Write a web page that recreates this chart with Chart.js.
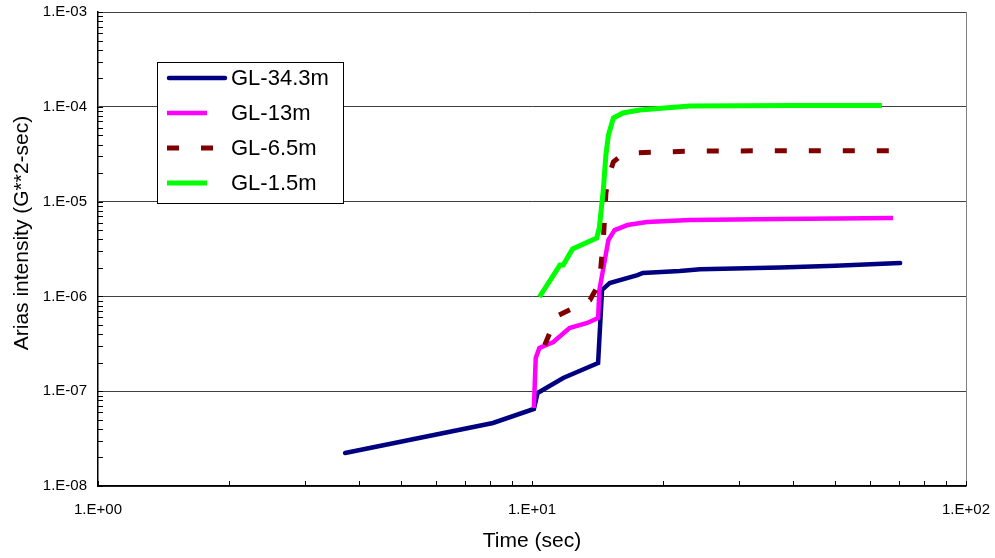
<!DOCTYPE html>
<html>
<head>
<meta charset="utf-8">
<script src="https://cdn.jsdelivr.net/npm/chart.js@4.4.1/dist/chart.umd.min.js"></script>
<style>
  html, body { margin: 0; padding: 0; background: #fff; }
  #wrap { width: 995px; height: 558px; }
</style>
</head>
<body>
<div id="wrap"><canvas id="chart" width="995" height="558"></canvas></div>
<script>
// series (time in sec, Arias intensity in G**2-sec)
const seriesNames = ['GL-34.3m', 'GL-13m', 'GL-6.5m', 'GL-1.5m'];

const time343 = [3.71, 8.13, 10.1, 10.3, 11.8, 14.2, 14.5, 15.1, 17.5, 18.0, 21.9, 24.4, 37.3, 50.0, 70.5];
const arias343 = [2.23e-8, 4.62e-8, 6.49e-8, 9.57e-8, 1.38e-7, 1.98e-7, 1.17e-6, 1.38e-6, 1.68e-6, 1.77e-6, 1.85e-6, 1.93e-6, 2.02e-6, 2.1e-6, 2.25e-6];

const time13 = [10.1, 10.2, 10.4, 11.2, 12.2, 13.4, 14.2, 14.3, 15.0, 15.5, 16.6, 18.4, 23.1, 37.3, 67.9];
const arias13 = [6.65e-8, 2.24e-7, 2.86e-7, 3.30e-7, 4.64e-7, 5.24e-7, 5.92e-7, 1.17e-6, 3.94e-6, 5.0e-6, 5.66e-6, 6.09e-6, 6.4e-6, 6.55e-6, 6.71e-6];

const time65 = [10.7, 11.4, 13.6, 14.3, 14.6, 14.8, 15.0, 15.4, 16.0, 17.1, 19.7, 24.4, 41.5, 71.2];
const arias65 = [3.07e-7, 6.2e-7, 9.16e-7, 1.38e-6, 3.94e-6, 1.23e-5, 1.82e-5, 2.62e-5, 3.03e-5, 3.26e-5, 3.34e-5, 3.42e-5, 3.44e-5, 3.45e-5];

const time15 = [10.4, 11.6, 11.8, 12.4, 14.1, 14.3, 14.6, 14.8, 15.0, 15.4, 16.2, 17.7, 23.1, 40.0, 64.0];
const arias15 = [9.86e-7, 2.14e-6, 2.14e-6, 3.16e-6, 4.13e-6, 5.4e-6, 1.33e-5, 3.1e-5, 5.04e-5, 7.62e-5, 8.6e-5, 9.25e-5, 1.02e-4, 1.03e-4, 1.03e-4];

const xRange = [1, 100];
const yRange = [1e-8, 1e-3];

const FONT = "'Liberation Sans', Arial, sans-serif";

const pairs = (xs, ys) => xs.map((x, i) => ({ x: x, y: ys[i] }));

const isMajor = v => Math.abs(Math.log10(v) - Math.round(Math.log10(v))) < 1e-9;

// Excel style label: 1.E-03
const expLabel = v => {
  const e = Math.round(Math.log10(v));
  const s = String(Math.abs(e)).padStart(2, '0');
  return '1.E' + (e < 0 ? '-' : '+') + s;
};

// drop the 1.5 ticks chart.js adds, keep 1..9 per decade
const keepDecadeTicks = scale => {
  scale.ticks = scale.ticks.filter(t => {
    const m = t.value / Math.pow(10, Math.floor(Math.log10(t.value) + 1e-9));
    return Math.abs(m - Math.round(m)) < 1e-6;
  });
};

// fixed axis boxes so the plot area lands where the reference has it
const fitX = s => {
  s.height = 72;
  s.paddingLeft = 0;
  s.paddingRight = 0;
};
const fitY = s => {
  s.width = 98;
  s.paddingTop = 0;
  s.paddingBottom = 0;
};

const extras = {
  id: 'extras',
  afterDraw(chart) {
    const ctx = chart.ctx;
    const xs = chart.scales.x;
    const ys = chart.scales.y;
    const area = chart.chartArea;

    // tick marks point into the plot
    ctx.save();
    ctx.strokeStyle = '#000';
    ctx.lineWidth = 1;
    ctx.beginPath();
    ys.ticks.forEach(t => {
      const y = Math.round(ys.getPixelForValue(t.value)) + 0.5;
      ctx.moveTo(area.left, y);
      ctx.lineTo(area.left + 5, y);
    });
    xs.ticks.forEach(t => {
      const x = Math.round(xs.getPixelForValue(t.value)) + 0.5;
      ctx.moveTo(x, area.bottom);
      ctx.lineTo(x, area.bottom - 5);
    });
    ctx.stroke();
    ctx.restore();

    // y axis title
    ctx.save();
    ctx.translate(22, 233);
    ctx.rotate(-Math.PI / 2);
    ctx.font = '21px ' + FONT;
    ctx.fillStyle = '#000';
    ctx.textAlign = 'center';
    ctx.textBaseline = 'middle';
    ctx.fillText('Arias intensity (G**2-sec)', 0, 0);
    ctx.restore();

    // legend box
    const bx = 157, by = 62, bw = 186, bh = 141;
    const sampleLen = [60, 40, 46, 40];
    ctx.save();
    ctx.fillStyle = '#fff';
    ctx.fillRect(bx, by, bw, bh);
    ctx.strokeStyle = '#000';
    ctx.lineWidth = 1;
    ctx.strokeRect(bx + 0.5, by + 0.5, bw, bh);
    chart.data.datasets.forEach((ds, i) => {
      const rowY = 78 + i * 35;
      ctx.save();
      ctx.strokeStyle = ds.borderColor;
      ctx.lineWidth = ds.borderWidth;
      ctx.lineCap = ds.borderCapStyle || 'butt';
      ctx.setLineDash(ds.borderDash || []);
      const x0 = 167 + (ds.borderCapStyle === 'round' ? 2 : 0);
      const x1 = 167 + sampleLen[i] - (ds.borderCapStyle === 'round' ? 2 : 0);
      ctx.beginPath();
      ctx.moveTo(x0, rowY);
      ctx.lineTo(x1, rowY);
      ctx.stroke();
      ctx.restore();
      ctx.font = '22px ' + FONT;
      ctx.fillStyle = '#000';
      ctx.textBaseline = 'middle';
      ctx.fillText(ds.label, 231, rowY + 1);
    });
    ctx.restore();
  }
};

new Chart(document.getElementById('chart'), {
  type: 'line',
  data: {
    datasets: [
      {
        label: seriesNames[0],
        data: pairs(time343, arias343),
        borderColor: '#000080',
        borderWidth: 4.5,
        borderCapStyle: 'round',
        order: 4
      },
      {
        label: seriesNames[1],
        data: pairs(time13, arias13),
        borderColor: '#ff00ff',
        borderWidth: 4.5,
        order: 3
      },
      {
        label: seriesNames[2],
        data: pairs(time65, arias65),
        borderColor: '#800000',
        borderWidth: 5,
        borderDash: [12, 22],
        order: 2
      },
      {
        label: seriesNames[3],
        data: pairs(time15, arias15),
        borderColor: '#00ff00',
        borderWidth: 5,
        order: 1
      }
    ]
  },
  options: {
    responsive: false,
    animation: false,
    devicePixelRatio: 1,
    elements: {
      point: { radius: 0, hoverRadius: 0 },
      line: { tension: 0, fill: false, borderJoinStyle: 'miter' }
    },
    layout: { padding: { top: 12, right: 29, left: 0, bottom: 0 } },
    plugins: {
      legend: { display: false },
      tooltip: { enabled: false }
    },
    scales: {
      x: {
        type: 'logarithmic',
        min: xRange[0],
        max: xRange[1],
        afterFit: fitX,
        afterBuildTicks: keepDecadeTicks,
        grid: {
          drawTicks: false,
          lineWidth: 1,
          color: c => (c.tick && c.tick.value === xRange[1]) ? '#808080' : 'rgba(0,0,0,0)'
        },
        border: { color: '#000', width: 1.5 },
        ticks: {
          autoSkip: false,
          maxRotation: 0,
          padding: 15,
          color: '#000',
          font: { family: FONT, size: 15 },
          callback: v => isMajor(v) ? expLabel(v) : ''
        },
        title: {
          display: true,
          text: 'Time (sec)',
          color: '#000',
          font: { family: FONT, size: 21 },
          padding: { top: 0, bottom: 4 }
        }
      },
      y: {
        type: 'logarithmic',
        min: yRange[0],
        max: yRange[1],
        afterFit: fitY,
        afterBuildTicks: keepDecadeTicks,
        grid: {
          drawTicks: false,
          lineWidth: 1,
          color: c => (c.tick && isMajor(c.tick.value)) ? '#404040' : 'rgba(0,0,0,0)'
        },
        border: { color: '#000', width: 1.5 },
        ticks: {
          autoSkip: false,
          padding: 11,
          color: '#000',
          font: { family: FONT, size: 15 },
          callback: v => isMajor(v) ? expLabel(v) : ''
        }
      }
    }
  },
  plugins: [extras]
});
</script>
</body>
</html>
